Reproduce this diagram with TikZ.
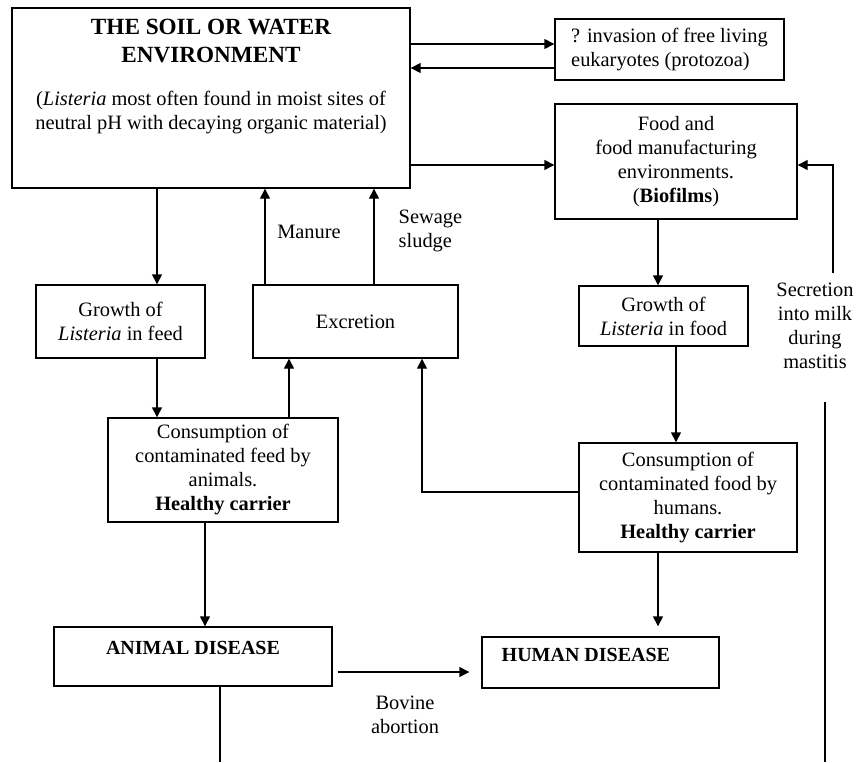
\documentclass[tikz,border=0pt]{standalone}
\usepackage{fontspec}
\setmainfont{Liberation Serif}
\usetikzlibrary{arrows.meta}
\begin{document}
\begin{tikzpicture}[x=1pt,y=-1pt,line width=1.4pt,
  box/.style={draw,rectangle,inner sep=0pt,align=center,font=\fontsize{20.4}{24}\selectfont},
  txt/.style={inner sep=0pt,align=center,font=\fontsize{20.4}{24}\selectfont},
  sick/.style={inner sep=0pt,font=\bfseries\fontsize{20}{24}\selectfont},
  arr/.style={-{Triangle[length=10pt,width=10pt]}}]
\useasboundingbox (0,0) rectangle (858,762);
\node[box,minimum width=398,minimum height=180] (soil) at (211,98) {};
\node[txt,font=\bfseries\fontsize{23.2}{28}\selectfont] (soiltitle) at (211,41) {THE SOIL OR WATER\\ENVIRONMENT};
\node[txt] (soilnote) at (211,113) {(\textit{Listeria} most often found in moist sites of\\neutral pH with decaying organic material)};
\node[box,align=left,minimum width=229,minimum height=61] (inv) at (669.5,49.5) {? invasion of free living\\eukaryotes (protozoa)};
\node[box,minimum width=242,minimum height=115] (food) at (676,161.5) {Food and\\food manufacturing\\environments.\\(\textbf{Biofilms})};
\node[box,minimum width=169,minimum height=73] (growfeed) at (120.5,321.5) {Growth of\\\textit{Listeria} in feed};
\node[box,minimum width=205,minimum height=73] (excr) at (355.5,321.5) {Excretion};
\node[box,minimum width=169,minimum height=60] (growfood) at (663.5,316) {Growth of\\\textit{Listeria} in food};
\node[box,minimum width=230,minimum height=104] (consfeed) at (223,470) {Consumption of\\contaminated feed by\\animals.\\\textbf{Healthy carrier}};
\node[box,minimum width=218,minimum height=109] (consfood) at (688,497.5) {Consumption of\\contaminated food by\\humans.\\\textbf{Healthy carrier}};
\node[box,minimum width=278,minimum height=59] (animal) at (193,656.5) {};
\node[sick] (animaltext) at (193,648) {ANIMAL DISEASE};
\node[box,minimum width=237,minimum height=51] (human) at (600.5,662.5) {};
\node[sick,anchor=west] (humantext) at (501,655) {HUMAN DISEASE};
\node[txt] (manure) at (309,232) {Manure};
\node[txt,align=left,anchor=west] (sewage) at (398,231) {Sewage\\sludge};
\node[txt] (bovine) at (405,715) {Bovine\\abortion};
\node[txt] (secr) at (815,326) {Secretion\\into milk\\during\\mastitis};
\coordinate (milktop) at (833,273);
\coordinate (milkA) at (825,402);
\coordinate (milkB) at (825,762);
\coordinate (abortend) at (220,762);
\draw[arr] (soil.east |- 0,44) -- (inv.west |- 0,44);
\draw[arr] (inv.west |- 0,68) -- (soil.east |- 0,68);
\draw[arr] (soil.east |- 0,165) -- (food.west |- 0,165);
\draw[arr] (157,0 |- soil.south) -- (157,0 |- growfeed.north);
\draw[arr] (157,0 |- growfeed.south) -- (157,0 |- consfeed.north);
\draw[arr] (289,0 |- consfeed.north) -- (289,0 |- excr.south);
\draw[arr] (consfood.west |- 0,492) -| (422,0 |- excr.south);
\draw[arr] (265,0 |- excr.north) -- (265,0 |- soil.south);
\draw[arr] (374,0 |- excr.north) -- (374,0 |- soil.south);
\draw[arr] (658,0 |- food.south) -- (658,0 |- growfood.north);
\draw[arr] (676,0 |- growfood.south) -- (676,0 |- consfood.north);
\draw[arr,shorten >=10pt] (658,0 |- consfood.south) -- (658,0 |- human.north);
\draw[arr] (205,0 |- consfeed.south) -- (205,0 |- animal.north);
\draw[arr,shorten <=5pt,shorten >=12pt] (animal.east |- 0,672) -- (human.west |- 0,672);
\draw[arr] (milktop) |- (food.east |- 0,165);
\draw (milkA) -- (milkB);
\draw (220,0 |- animal.south) -- (abortend);
\end{tikzpicture}
\end{document}
